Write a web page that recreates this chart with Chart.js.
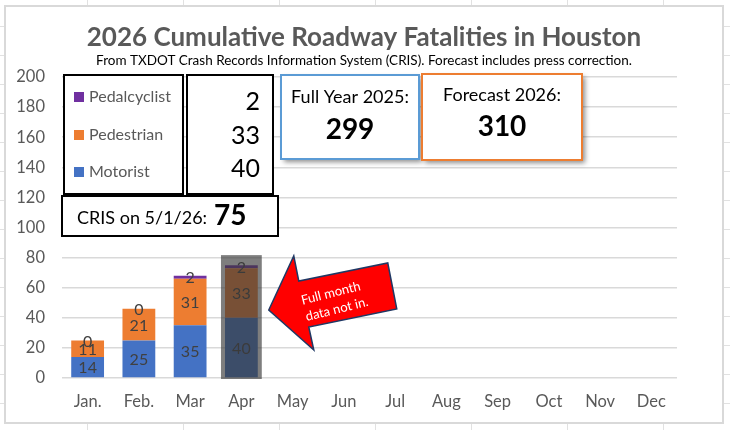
<!DOCTYPE html>
<html>
<head>
<meta charset="utf-8">
<script src="https://cdn.jsdelivr.net/npm/chart.js@4"></script>
<style>
  html, body { margin: 0; padding: 0; background: #fff; }
  #wrap { position: relative; width: 730px; height: 430px; }
</style>
</head>
<body>
<div id="wrap"><canvas id="fatalities"></canvas></div>
<script>
const months = ['Jan.', 'Feb.', 'Mar', 'Apr', 'May', 'Jun', 'Jul', 'Aug', 'Sep', 'Oct', 'Nov', 'Dec'];
const motorist = [14, 25, 35, 40];
const pedestrian = [11, 21, 31, 33];
const pedalcyclist = [0, 0, 2, 2];
const yTicks = [0, 20, 40, 60, 80, 100, 120, 140, 160, 180, 200];
const fullYear2025 = 299;
const forecast2026 = 310;
const crisDate = '5/1/26';
const partialMonth = 3; // Apr is still incomplete

const FONT = 'Lato, "Open Sans", sans-serif';
const latest = motorist.length - 1;
const crisTotal = motorist[latest] + pedestrian[latest] + pedalcyclist[latest];

const box = (ctx, x, y, w, h, color, shadow) => {
    ctx.save();
    if (shadow) {
        ctx.shadowColor = 'rgba(0,0,0,0.45)';
        ctx.shadowBlur = 5;
        ctx.shadowOffsetX = 3;
        ctx.shadowOffsetY = 3;
    }
    ctx.fillStyle = '#fff';
    ctx.fillRect(x, y, w, h);
    ctx.restore();
    ctx.save();
    ctx.strokeStyle = color;
    ctx.lineWidth = 2;
    ctx.strokeRect(x, y, w, h);
    ctx.restore();
};

const text = (ctx, str, x, y, font, color, align) => {
    ctx.font = font;
    ctx.fillStyle = color;
    ctx.textAlign = align || 'center';
    ctx.textBaseline = 'middle';
    ctx.fillText(str, x, y);
};

// sheet grid + chart frame behind everything
const backdrop = {
    id: 'backdrop',
    beforeDraw(chart) {
        const ctx = chart.ctx;
        ctx.save();
        ctx.fillStyle = '#fff';
        ctx.fillRect(0, 0, chart.width, chart.height);
        ctx.strokeStyle = '#e1e1e1';
        ctx.lineWidth = 1;
        for (let x = -9; x < chart.width; x += 96) {
            ctx.beginPath(); ctx.moveTo(x + 0.5, 0); ctx.lineTo(x + 0.5, chart.height); ctx.stroke();
        }
        for (let y = 26; y < chart.height; y += 29) {
            ctx.beginPath(); ctx.moveTo(0, y + 0.5); ctx.lineTo(chart.width, y + 0.5); ctx.stroke();
        }
        ctx.fillStyle = '#fff';
        ctx.fillRect(5, 6, 718, 417);
        ctx.strokeStyle = '#d9d9d9';
        ctx.lineWidth = 2;
        ctx.strokeRect(5, 6, 718, 417);
        ctx.restore();
    }
};

// values in the middle of each segment
const segmentLabels = {
    id: 'segmentLabels',
    afterDatasetsDraw(chart) {
        const ctx = chart.ctx;
        ctx.save();
        chart.data.datasets.forEach((ds, i) => {
            chart.getDatasetMeta(i).data.forEach((bar, j) => {
                text(ctx, String(ds.data[j]), bar.x, (bar.y + bar.base) / 2 + 1, '16px ' + FONT, '#404040');
            });
        });
        ctx.restore();
    }
};

const overlays = {
    id: 'overlays',
    afterDraw(chart) {
        const ctx = chart.ctx;
        const ys = chart.scales.y;
        ctx.save();

        // shaded box over the incomplete month
        const bar = chart.getDatasetMeta(0).data[partialMonth];
        const half = bar.width / 2 + 4;
        const top = ys.getPixelForValue(crisTotal) - 10;
        ctx.fillStyle = 'rgba(57,57,57,0.65)';
        ctx.fillRect(bar.x - half, top, half * 2, ys.getPixelForValue(0) + 1 - top);

        // red arrow pointing at it
        const ox = bar.x + half + 7, oy = ys.getPixelForValue(0) - 68;
        const pts = [[0, 0], [25, -54], [30, -29], [119, -47], [128, -1], [40, 17], [45, 40]];
        ctx.beginPath();
        pts.forEach(([px, py], k) => k ? ctx.lineTo(ox + px, oy + py) : ctx.moveTo(ox + px, oy + py));
        ctx.closePath();
        ctx.fillStyle = '#ff0000';
        ctx.fill();
        ctx.strokeStyle = '#1f3864';
        ctx.lineWidth = 1.5;
        ctx.stroke();
        ctx.save();
        ctx.translate(ox + 64, oy - 9);
        ctx.rotate(-14 * Math.PI / 180);
        text(ctx, 'Full month', 0, -8, '13px ' + FONT, '#fff');
        text(ctx, 'data not in.', 2, 9, '13px ' + FONT, '#fff');
        ctx.restore();

        // legend box
        box(ctx, 64, 75, 119, 119, '#000');
        const legendRows = chart.data.datasets.slice().reverse();
        const valueRows = [pedalcyclist[latest], pedestrian[latest], motorist[latest]];
        const rowY = [97, 135, 172];
        legendRows.forEach((ds, k) => {
            ctx.fillStyle = ds.backgroundColor;
            ctx.fillRect(74, rowY[k] - 5, 10, 10);
            text(ctx, ds.label, 89, rowY[k], '16px ' + FONT, '#595959', 'left');
        });

        // latest counts
        box(ctx, 187, 75, 86, 119, '#000');
        valueRows.forEach((v, k) => {
            text(ctx, String(v), 260, [102, 136, 169][k], '25px ' + FONT, '#000', 'right');
        });

        // CRIS total
        box(ctx, 62, 196, 216, 40, '#000');
        text(ctx, 'CRIS on ' + crisDate + ':', 77, 218, '18px ' + FONT, '#000', 'left');
        text(ctx, String(crisTotal), 214, 216, 'bold 28px ' + FONT, '#000', 'left');

        // year boxes
        box(ctx, 281, 75, 138, 84, '#5b9bd5', true);
        text(ctx, 'Full Year 2025:', 350, 97, '18px ' + FONT, '#000');
        text(ctx, String(fullYear2025), 350, 130, 'bold 28px ' + FONT, '#000');
        box(ctx, 422, 74, 160, 86, '#ed7d31', true);
        text(ctx, 'Forecast 2026:', 502, 95, '18px ' + FONT, '#000');
        text(ctx, String(forecast2026), 502, 127, 'bold 28px ' + FONT, '#000');

        // titles
        text(ctx, '2026 Cumulative Roadway Fatalities in Houston', 364, 38, 'bold 26px ' + FONT, '#595959');
        text(ctx, 'From TXDOT Crash Records Information System (CRIS). Forecast includes press correction.', 364, 61, '13.5px ' + FONT, '#000');

        ctx.restore();
    }
};

document.addEventListener('DOMContentLoaded', function () {
    const ctx = document.getElementById('fatalities').getContext('2d');

    new Chart(ctx, {
        type: 'bar',
        data: {
            labels: months,
            datasets: [
                { label: 'Motorist', data: motorist, backgroundColor: '#4472c4' },
                { label: 'Pedestrian', data: pedestrian, backgroundColor: '#ed7d31' },
                { label: 'Pedalcyclist', data: pedalcyclist, backgroundColor: '#7030a0' }
            ]
        },
        options: {
            responsive: true,
            maintainAspectRatio: false,
            animation: false,
            layout: { padding: { left: 0, right: 53, top: 77, bottom: 0 } },
            datasets: { bar: { categoryPercentage: 0.64, barPercentage: 1 } },
            plugins: {
                legend: { display: false },
                title: { display: false },
                tooltip: { enabled: false }
            },
            scales: {
                x: {
                    stacked: true,
                    afterFit: (scale) => { scale.height = 52; },
                    grid: { display: false, drawTicks: false },
                    border: { display: false },
                    ticks: { padding: 14, color: '#595959', font: { family: FONT, size: 16.5 } }
                },
                y: {
                    stacked: true,
                    min: yTicks[0],
                    max: yTicks[yTicks.length - 1],
                    afterFit: (scale) => { scale.width = 62; },
                    afterBuildTicks: (scale) => { scale.ticks = yTicks.map(v => ({ value: v })); },
                    grid: { color: '#d9d9d9', lineWidth: 1.5, drawTicks: false },
                    border: { display: false },
                    ticks: { padding: 17, color: '#595959', font: { family: FONT, size: 16.5 } }
                }
            }
        },
        plugins: [backdrop, segmentLabels, overlays]
    });
});
</script>
</body>
</html>
